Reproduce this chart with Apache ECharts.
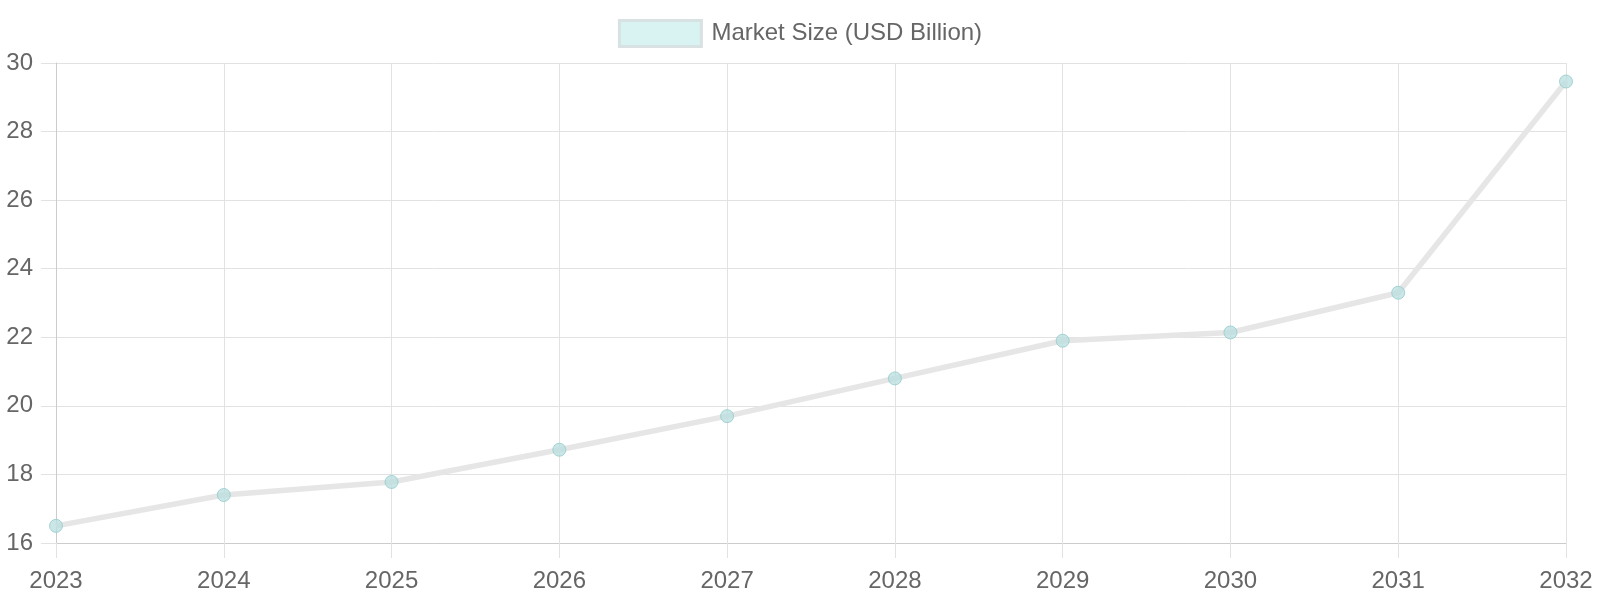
<!DOCTYPE html>
<html>
<head>
<meta charset="utf-8">
<script src="https://cdn.jsdelivr.net/npm/echarts@6/dist/echarts.min.js"></script>
<style>html,body{margin:0;padding:0;background:#fff;}#c{width:1600px;height:600px;}</style>
</head>
<body>
<div id="c"></div>
<script>
const years = ['2023','2024','2025','2026','2027','2028','2029','2030','2031','2032'];
const marketSize = [16.5, 17.4, 17.78, 18.72, 19.7, 20.8, 21.9, 22.14, 23.3, 29.46];
const seriesName = 'Market Size (USD Billion)';
const yTicks = {min: 16, max: 30, interval: 2};

const chart = echarts.init(document.getElementById('c'));
const font = 'Liberation Sans, Arial, sans-serif';
chart.setOption({
  animation: false,
  legend: {
    top: 14,
    left: 'center',
    itemWidth: 82,
    itemHeight: 26,
    itemGap: 10,
    icon: 'rect',
    textStyle: {fontSize: 24, color: '#666', fontFamily: font, padding: [0, 0, 0, 5]},
    data: [{name: seriesName, itemStyle: {color: '#d9f2f2', borderColor: '#d8e2e2', borderWidth: 3}}]
  },
  grid: {left: 56, right: 34, top: 63, bottom: 57},
  xAxis: {
    type: 'category',
    data: years,
    boundaryGap: false,
    axisLine: {lineStyle: {color: '#cccccc', width: 1}},
    axisTick: {show: true, length: 15, lineStyle: {color: '#e2e2e2'}},
    axisLabel: {fontSize: 24, color: '#666', fontFamily: font, margin: 26},
    splitLine: {show: true, lineStyle: {color: '#e2e2e2', width: 1}}
  },
  yAxis: {
    type: 'value',
    min: yTicks.min, max: yTicks.max, interval: yTicks.interval,
    axisLine: {show: true, lineStyle: {color: '#cccccc', width: 1}},
    axisTick: {show: true, length: 15, lineStyle: {color: '#e2e2e2'}},
    axisLabel: {fontSize: 24, color: '#666', fontFamily: font, margin: 23},
    splitLine: {show: true, lineStyle: {color: '#e2e2e2', width: 1}}
  },
  series: [{
    name: seriesName,
    type: 'line',
    data: marketSize,
    symbol: 'circle',
    symbolSize: 13,
    lineStyle: {color: '#e6e6e6', width: 5.5},
    itemStyle: {color: 'rgba(185,222,222,0.75)', borderColor: 'rgba(150,205,205,0.85)', borderWidth: 1},
    z: 3
  }]
});
</script>
</body>
</html>
